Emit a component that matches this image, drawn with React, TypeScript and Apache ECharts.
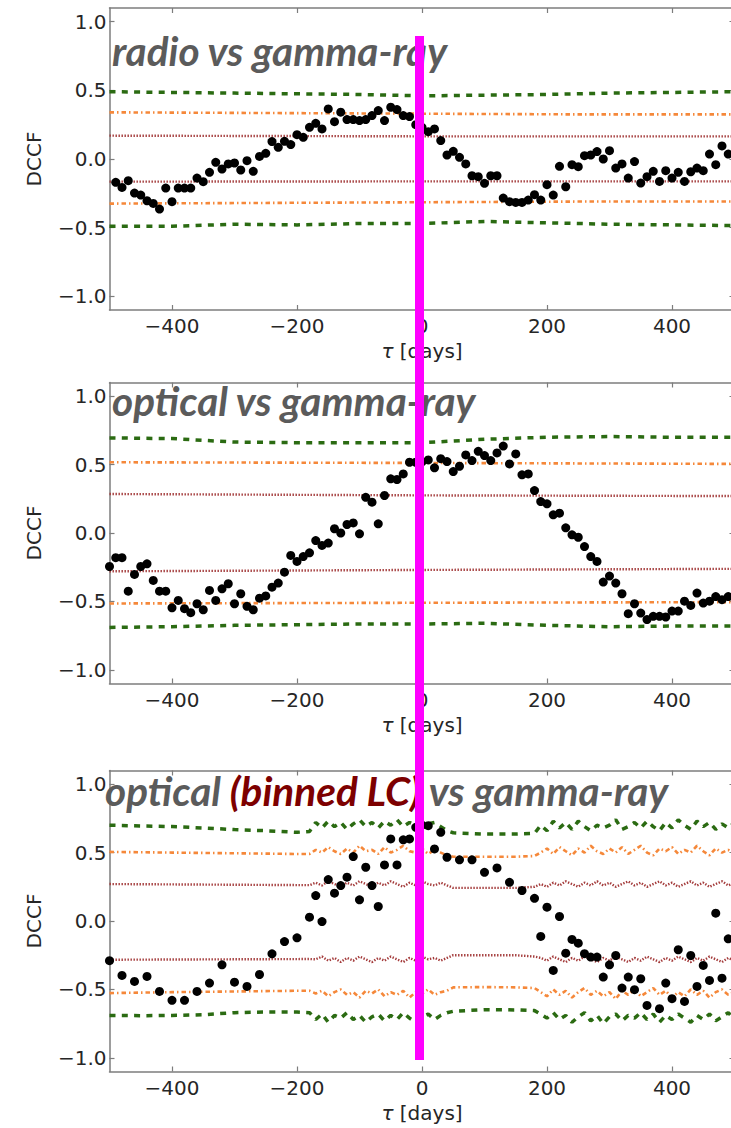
import React, { useEffect, useRef } from 'react';
import * as echarts from 'echarts';

// ---------- axis ticks ----------
const X_TICKS = [-400, -200, 0, 200, 400];
const Y_TICKS = [-1, -0.5, 0, 0.5, 1];

// ---------- panel titles ----------
const TITLE_1 = 'radio vs gamma-ray';
const TITLE_2 = 'optical vs gamma-ray';
const TITLE_3A = 'optical ';
const TITLE_3B = '(binned LC)';
const TITLE_3C = ' vs gamma-ray';

// ---------- panel 1: radio vs gamma-ray ----------
const P1_LAGS = [-490,-480,-470,-460,-450,-440,-430,-420,-410,-400,-390,-380,-370,-360,-350,-340,-330,-320,-310,-300,-290,-280,-270,-260,-250,-240,-230,-220,-210,-200,-190,-180,-170,-160,-150,-140,-130,-120,-110,-100,-90,-80,-70,-60,-50,-40,-30,-20,-10,0,10,20,30,40,50,60,70,80,90,100,110,120,130,140,150,160,170,180,190,200,210,220,230,240,250,260,270,280,290,300,310,320,330,340,350,360,370,380,390,400,410,420,430,440,450,460,470,480,490];
const P1_DCCF = [-0.17,-0.207,-0.158,-0.248,-0.263,-0.304,-0.324,-0.365,-0.212,-0.311,-0.212,-0.212,-0.212,-0.139,-0.165,-0.097,-0.024,-0.073,-0.036,-0.029,-0.08,-0.012,-0.09,0.019,0.041,0.127,0.085,0.129,0.105,0.177,0.158,0.231,0.26,0.219,0.365,0.272,0.341,0.287,0.287,0.28,0.287,0.316,0.353,0.28,0.377,0.36,0.316,0.309,0.25,0.231,0.199,0.219,0.134,0.029,0.056,0.012,-0.036,-0.122,-0.129,-0.177,-0.122,-0.122,-0.285,-0.311,-0.316,-0.316,-0.299,-0.26,-0.299,-0.187,-0.263,-0.053,-0.202,-0.041,-0.056,0.024,0.029,0.054,0.0,0.061,-0.066,-0.036,-0.139,-0.019,-0.175,-0.129,-0.09,-0.163,-0.085,-0.139,-0.097,-0.163,-0.093,-0.066,-0.085,0.036,-0.041,0.095,0.036];
const P1_GREEN_HI = [[-500,0.49],[-400,0.485],[-300,0.48],[-200,0.475],[-100,0.47],[0,0.46],[100,0.465],[200,0.47],[300,0.48],[400,0.485],[500,0.49]];
const P1_GREEN_LO = [[-500,-0.49],[-400,-0.49],[-300,-0.475],[-200,-0.48],[-100,-0.47],[0,-0.47],[100,-0.455],[200,-0.465],[300,-0.475],[400,-0.48],[500,-0.485]];
const P1_ORANGE_HI = [[-500,0.34],[-250,0.335],[0,0.33],[250,0.325],[500,0.325]];
const P1_ORANGE_LO = [[-500,-0.325],[-250,-0.32],[0,-0.315],[250,-0.31],[500,-0.31]];
const P1_BROWN_HI = [[-500,0.17],[0,0.165],[500,0.165]];
const P1_BROWN_LO = [[-500,-0.165],[0,-0.163],[500,-0.163]];

// ---------- panel 2: optical vs gamma-ray ----------
const P2_LAGS = [-500,-490,-480,-470,-460,-450,-440,-430,-420,-410,-400,-390,-380,-370,-360,-350,-340,-330,-320,-310,-300,-290,-280,-270,-260,-250,-240,-230,-220,-210,-200,-190,-180,-170,-160,-150,-140,-130,-120,-110,-100,-90,-80,-70,-60,-50,-40,-30,-20,-10,0,10,20,30,40,50,60,70,80,90,100,110,120,130,140,150,160,170,180,190,200,210,220,230,240,250,260,270,280,290,300,310,320,330,340,350,360,370,380,390,400,410,420,430,440,450,460,470,480,490];
const P2_DCCF = [-0.245,-0.18,-0.18,-0.425,-0.303,-0.245,-0.225,-0.347,-0.425,-0.425,-0.547,-0.493,-0.553,-0.582,-0.517,-0.561,-0.42,-0.493,-0.408,-0.371,-0.517,-0.444,-0.536,-0.561,-0.476,-0.46,-0.396,-0.366,-0.286,-0.164,-0.208,-0.172,-0.145,-0.055,-0.091,-0.074,0.031,0.0,0.062,0.074,-0.006,0.261,0.225,0.067,0.274,0.396,0.391,0.432,0.517,0.517,0.52,0.534,0.476,0.543,0.522,0.449,0.488,0.571,0.529,0.597,0.566,0.529,0.585,0.635,0.505,0.578,0.425,0.432,0.31,0.23,0.213,0.133,0.145,0.038,-0.013,-0.031,-0.099,-0.172,-0.208,-0.359,-0.315,-0.366,-0.444,-0.59,-0.517,-0.585,-0.633,-0.609,-0.609,-0.614,-0.571,-0.571,-0.498,-0.529,-0.439,-0.512,-0.498,-0.465,-0.487,-0.465];
const P2_GREEN_HI = [[-500,0.695],[-400,0.69],[-300,0.665],[-200,0.66],[-100,0.66],[0,0.66],[100,0.685],[200,0.7],[300,0.705],[400,0.7],[500,0.7]];
const P2_GREEN_LO = [[-500,-0.69],[-400,-0.685],[-300,-0.675],[-200,-0.67],[-100,-0.665],[0,-0.665],[100,-0.66],[200,-0.675],[300,-0.685],[400,-0.68],[500,-0.68]];
const P2_ORANGE_HI = [[-500,0.517],[0,0.512],[500,0.505]];
const P2_ORANGE_LO = [[-500,-0.515],[0,-0.51],[500,-0.505]];
const P2_BROWN_HI = [[-500,0.285],[0,0.275],[500,0.27]];
const P2_BROWN_LO = [[-500,-0.28],[0,-0.27],[500,-0.262]];

// ---------- panel 3: optical (binned LC) vs gamma-ray ----------
const P3_LAGS = [-500,-480,-460,-440,-420,-400,-380,-360,-340,-320,-300,-280,-260,-240,-220,-200,-180,-170,-160,-150,-140,-130,-120,-110,-100,-90,-80,-70,-60,-50,-40,-30,-20,-10,0,10,20,30,40,60,80,100,120,140,160,180,190,200,210,220,230,240,250,260,270,280,290,300,310,320,330,340,350,360,380,390,400,410,420,430,440,450,460,470,480,490];
const P3_DCCF = [-0.29,-0.398,-0.442,-0.405,-0.515,-0.58,-0.58,-0.515,-0.454,-0.32,-0.447,-0.478,-0.391,-0.24,-0.15,-0.123,0.028,0.186,-0.004,0.303,0.203,0.259,0.32,0.471,0.155,0.393,0.259,0.106,0.41,0.6,0.41,0.593,0.6,0.685,0.7,0.697,0.527,0.648,0.466,0.447,0.447,0.356,0.388,0.283,0.223,0.166,-0.113,0.101,-0.361,0.033,-0.235,-0.135,-0.162,-0.239,-0.264,-0.264,-0.41,-0.32,-0.252,-0.49,-0.41,-0.502,-0.422,-0.617,-0.641,-0.454,-0.568,-0.21,-0.588,-0.252,-0.478,-0.325,-0.434,0.057,-0.418,-0.13];

// significance levels, smooth parts and noisy parts
const P3_NOISY_LAGS_A = [-170,-160,-150,-140,-130,-120,-110,-100,-90,-80,-70,-60,-50,-40,-30,-20,-10,0,10,20,30,40];
const P3_NOISY_LAGS_B = [190,200,210,220,230,240,250,260,270,280,290,300,310,320,330,340,350,360,370,380,390,400,410,420,430,440,450,460,470,480,490,500];

const P3_GREEN_HI_S1 = [[-500,0.7],[-450,0.695],[-400,0.69],[-350,0.68],[-300,0.668],[-250,0.66],[-200,0.648],[-180,0.655]];
const P3_GREEN_HI_A = [0.72,0.68,0.73,0.69,0.72,0.67,0.71,0.74,0.69,0.72,0.68,0.73,0.7,0.74,0.69,0.72,0.7,0.72,0.71,0.72,0.69,0.66];
const P3_GREEN_HI_S2 = [[50,0.645],[100,0.635],[150,0.635],[180,0.64]];
const P3_GREEN_HI_B = [0.7,0.66,0.73,0.68,0.72,0.67,0.73,0.69,0.66,0.7,0.68,0.7,0.74,0.67,0.69,0.72,0.68,0.73,0.69,0.66,0.72,0.68,0.74,0.7,0.67,0.73,0.69,0.72,0.67,0.71,0.68,0.72];

const P3_GREEN_LO_S1 = [[-500,-0.69],[-450,-0.692],[-400,-0.69],[-350,-0.685],[-300,-0.67],[-250,-0.665],[-200,-0.665],[-180,-0.67]];
const P3_GREEN_LO_A = [-0.72,-0.68,-0.74,-0.69,-0.71,-0.67,-0.72,-0.69,-0.74,-0.7,-0.68,-0.73,-0.69,-0.72,-0.67,-0.71,-0.74,-0.7,-0.68,-0.72,-0.69,-0.67];
const P3_GREEN_LO_S2 = [[50,-0.66],[100,-0.648],[150,-0.65],[180,-0.655]];
const P3_GREEN_LO_B = [-0.68,-0.71,-0.67,-0.72,-0.69,-0.74,-0.7,-0.67,-0.73,-0.69,-0.75,-0.7,-0.68,-0.73,-0.69,-0.71,-0.67,-0.72,-0.68,-0.74,-0.69,-0.72,-0.68,-0.71,-0.74,-0.69,-0.72,-0.68,-0.73,-0.7,-0.67,-0.72];

const P3_ORANGE_HI_S1 = [[-500,0.505],[-400,0.5],[-300,0.495],[-200,0.49],[-180,0.49]];
const P3_ORANGE_HI_A = [0.52,0.5,0.54,0.51,0.49,0.53,0.5,0.55,0.51,0.52,0.49,0.54,0.5,0.52,0.55,0.51,0.5,0.53,0.49,0.52,0.5,0.48];
const P3_ORANGE_HI_S2 = [[50,0.47],[100,0.47],[150,0.47],[180,0.475]];
const P3_ORANGE_HI_B = [0.5,0.53,0.49,0.54,0.51,0.48,0.53,0.5,0.55,0.51,0.49,0.53,0.5,0.54,0.49,0.52,0.55,0.5,0.48,0.53,0.51,0.54,0.49,0.52,0.5,0.55,0.51,0.48,0.53,0.5,0.52,0.49];

const P3_ORANGE_LO_S1 = [[-500,-0.527],[-400,-0.52],[-300,-0.515],[-200,-0.51],[-180,-0.51]];
const P3_ORANGE_LO_A = [-0.53,-0.51,-0.55,-0.52,-0.5,-0.54,-0.52,-0.56,-0.51,-0.53,-0.5,-0.55,-0.52,-0.54,-0.51,-0.56,-0.52,-0.53,-0.5,-0.54,-0.52,-0.51];
const P3_ORANGE_LO_S2 = [[50,-0.485],[100,-0.483],[150,-0.485],[180,-0.49]];
const P3_ORANGE_LO_B = [-0.52,-0.55,-0.5,-0.54,-0.51,-0.56,-0.52,-0.49,-0.54,-0.51,-0.55,-0.52,-0.57,-0.51,-0.54,-0.5,-0.55,-0.52,-0.49,-0.54,-0.51,-0.56,-0.52,-0.55,-0.5,-0.54,-0.51,-0.56,-0.52,-0.5,-0.54,-0.52];

const P3_BROWN_HI_S1 = [[-500,0.27],[-300,0.265],[-180,0.262]];
const P3_BROWN_HI_A = [0.28,0.26,0.29,0.27,0.25,0.28,0.26,0.29,0.27,0.25,0.28,0.26,0.29,0.27,0.25,0.28,0.26,0.29,0.27,0.26,0.28,0.26];
const P3_BROWN_HI_S2 = [[50,0.242],[100,0.242],[150,0.242],[180,0.25]];
const P3_BROWN_HI_B = [0.27,0.25,0.28,0.26,0.29,0.27,0.25,0.28,0.26,0.29,0.26,0.28,0.25,0.27,0.29,0.26,0.28,0.25,0.27,0.29,0.26,0.28,0.25,0.27,0.29,0.26,0.28,0.25,0.27,0.29,0.26,0.28];

const P3_BROWN_LO_S1 = [[-500,-0.283],[-300,-0.28],[-180,-0.278]];
const P3_BROWN_LO_A = [-0.28,-0.26,-0.29,-0.27,-0.3,-0.27,-0.29,-0.26,-0.28,-0.3,-0.27,-0.29,-0.26,-0.28,-0.3,-0.27,-0.29,-0.26,-0.28,-0.27,-0.29,-0.27];
const P3_BROWN_LO_S2 = [[50,-0.25],[100,-0.25],[150,-0.25],[180,-0.26]];
const P3_BROWN_LO_B = [-0.27,-0.29,-0.26,-0.28,-0.3,-0.27,-0.29,-0.26,-0.28,-0.3,-0.27,-0.29,-0.26,-0.28,-0.3,-0.27,-0.29,-0.26,-0.28,-0.3,-0.27,-0.29,-0.26,-0.28,-0.3,-0.27,-0.29,-0.26,-0.28,-0.3,-0.27,-0.29];

// ---------- styling ----------
const GREEN = '#2b6b12';
const ORANGE = '#f5883a';
const BROWN = '#a33a3a';
const SPINE = '#7d7d7d';
const TEXT = '#262626';
const TITLE_GREY = '#5b5b5b';
const TITLE_RED = '#7d0000';
const MAGENTA = '#ff00ff';

const GRIDS = [
  { top: 8, height: 302 },
  { top: 382.5, height: 301 },
  { top: 770.5, height: 301 },
];
const GRID_LEFT = 109.5;
const GRID_WIDTH = 625;

const zip = (xs: number[], ys: number[]) => xs.map((x, i) => [x, ys[i]]);
const joinParts = (s1: number[][], a: number[], s2: number[][], b: number[]) =>
  [...s1, ...zip(P3_NOISY_LAGS_A, a), ...s2, ...zip(P3_NOISY_LAGS_B, b)];

const minus = (s: string) => s.replace('-', '\u2212');
const fmtX = (v: number) => minus(String(Math.round(v)));
const fmtY = (v: number) => minus(v.toFixed(1));

export default function App() {
  const ref = useRef<HTMLDivElement>(null);

  useEffect(() => {
    if (!ref.current) return;
    const chart = echarts.init(ref.current, undefined, { renderer: 'svg' });

    const xAxis: any[] = [];
    const yAxis: any[] = [];
    GRIDS.forEach((_, i) => {
      const tickCommon = { show: true, inside: true, length: 5, lineStyle: { color: SPINE, width: 1.2 } };
      xAxis.push({
        type: 'value', gridIndex: i, min: -500, max: 500, position: 'bottom',
        axisLine: { show: true, onZero: false, lineStyle: { color: SPINE, width: 1.5 } },
        axisTick: { ...tickCommon, customValues: X_TICKS },
        axisLabel: { customValues: X_TICKS, formatter: fmtX, margin: 6, fontFamily: 'DejaVu Sans', fontSize: 20, color: TEXT },
        splitLine: { show: false },
        name: '{i|τ} [days]', nameLocation: 'middle', nameGap: 31,
        nameTextStyle: {
          fontFamily: 'DejaVu Sans', fontSize: 20, color: TEXT,
          rich: { i: { fontFamily: 'DejaVu Sans', fontStyle: 'italic', fontSize: 20, color: TEXT } },
        },
      });
      xAxis.push({
        type: 'value', gridIndex: i, min: -500, max: 500, position: 'top',
        axisLine: { show: true, onZero: false, lineStyle: { color: SPINE, width: 1.5 } },
        axisTick: { ...tickCommon, customValues: X_TICKS },
        axisLabel: { show: false },
        splitLine: { show: false },
      });
      yAxis.push({
        type: 'value', gridIndex: i, min: -1.1, max: 1.1, position: 'left',
        axisLine: { show: true, onZero: false, lineStyle: { color: SPINE, width: 1.5 } },
        axisTick: { ...tickCommon, customValues: Y_TICKS },
        axisLabel: { customValues: Y_TICKS, formatter: fmtY, margin: 3, fontFamily: 'DejaVu Sans', fontSize: 20, color: TEXT },
        splitLine: { show: false },
        name: 'DCCF', nameLocation: 'middle', nameGap: 66, nameRotate: 90,
        nameTextStyle: { fontFamily: 'DejaVu Sans', fontSize: 20, color: TEXT },
      });
      yAxis.push({
        type: 'value', gridIndex: i, min: -1.1, max: 1.1, position: 'right',
        axisLine: { show: true, onZero: false, lineStyle: { color: SPINE, width: 1.5 } },
        axisTick: { ...tickCommon, customValues: Y_TICKS },
        axisLabel: { show: false },
        splitLine: { show: false },
      });
    });

    const lineSeries = (panel: number, data: number[][], kind: 'g' | 'o' | 'b') => {
      const style =
        kind === 'g' ? { color: GREEN, width: 3.5, type: [6, 6.3] }
        : kind === 'o' ? { color: ORANGE, width: 2.6, type: [4.5, 3, 1.5, 3] }
        : { color: BROWN, width: 2.4, type: [1.4, 1.6] };
      return {
        type: 'line', xAxisIndex: panel * 2, yAxisIndex: panel * 2, data,
        showSymbol: false, symbol: 'none', silent: true, z: 3,
        lineStyle: style,
      };
    };
    const scatterSeries = (panel: number, lags: number[], vals: number[]) => ({
      type: 'scatter', xAxisIndex: panel * 2, yAxisIndex: panel * 2,
      data: zip(lags, vals), symbolSize: 9, itemStyle: { color: '#000', opacity: 1 }, z: 5, silent: true,
    });

    const series = [
      lineSeries(0, P1_GREEN_HI, 'g'), lineSeries(0, P1_GREEN_LO, 'g'),
      lineSeries(0, P1_ORANGE_HI, 'o'), lineSeries(0, P1_ORANGE_LO, 'o'),
      lineSeries(0, P1_BROWN_HI, 'b'), lineSeries(0, P1_BROWN_LO, 'b'),
      scatterSeries(0, P1_LAGS, P1_DCCF),

      lineSeries(1, P2_GREEN_HI, 'g'), lineSeries(1, P2_GREEN_LO, 'g'),
      lineSeries(1, P2_ORANGE_HI, 'o'), lineSeries(1, P2_ORANGE_LO, 'o'),
      lineSeries(1, P2_BROWN_HI, 'b'), lineSeries(1, P2_BROWN_LO, 'b'),
      scatterSeries(1, P2_LAGS, P2_DCCF),

      lineSeries(2, joinParts(P3_GREEN_HI_S1, P3_GREEN_HI_A, P3_GREEN_HI_S2, P3_GREEN_HI_B), 'g'),
      lineSeries(2, joinParts(P3_GREEN_LO_S1, P3_GREEN_LO_A, P3_GREEN_LO_S2, P3_GREEN_LO_B), 'g'),
      lineSeries(2, joinParts(P3_ORANGE_HI_S1, P3_ORANGE_HI_A, P3_ORANGE_HI_S2, P3_ORANGE_HI_B), 'o'),
      lineSeries(2, joinParts(P3_ORANGE_LO_S1, P3_ORANGE_LO_A, P3_ORANGE_LO_S2, P3_ORANGE_LO_B), 'o'),
      lineSeries(2, joinParts(P3_BROWN_HI_S1, P3_BROWN_HI_A, P3_BROWN_HI_S2, P3_BROWN_HI_B), 'b'),
      lineSeries(2, joinParts(P3_BROWN_LO_S1, P3_BROWN_LO_A, P3_BROWN_LO_S2, P3_BROWN_LO_B), 'b'),
      scatterSeries(2, P3_LAGS, P3_DCCF),
    ];

    const titleFont = { fontFamily: 'Lato', fontSize: 40.5, fontWeight: 'bold', fontStyle: 'italic' };

    chart.setOption({
      animation: false,
      backgroundColor: '#ffffff',
      grid: GRIDS.map((g) => ({ left: GRID_LEFT, width: GRID_WIDTH, top: g.top, height: g.height })),
      xAxis,
      yAxis,
      series,
      graphic: [
        { type: 'text', x: 112, y: 50, z: 50, style: { text: TITLE_1, ...titleFont, fill: TITLE_GREY, verticalAlign: 'middle' } },
        { type: 'text', x: 112, y: 400, z: 50, style: { text: TITLE_2, ...titleFont, fill: TITLE_GREY, verticalAlign: 'middle' } },
        {
          type: 'text', x: 105, y: 790, z: 50,
          style: {
            text: `{a|${TITLE_3A}}{b|${TITLE_3B}}{a|${TITLE_3C}}`,
            verticalAlign: 'middle',
            rich: {
              a: { ...titleFont, fill: TITLE_GREY },
              b: { ...titleFont, fill: TITLE_RED },
            },
          },
        },
        { type: 'rect', z: 100, shape: { x: 415, y: 36, width: 9, height: 1024 }, style: { fill: MAGENTA } },
      ],
    });

    return () => chart.dispose();
  }, []);

  return (
    <div style={{ position: 'absolute', left: 0, top: 0, width: 731, height: 1128, overflow: 'hidden', background: '#fff' }}>
      <div ref={ref} style={{ width: 740, height: 1128 }} />
    </div>
  );
}
